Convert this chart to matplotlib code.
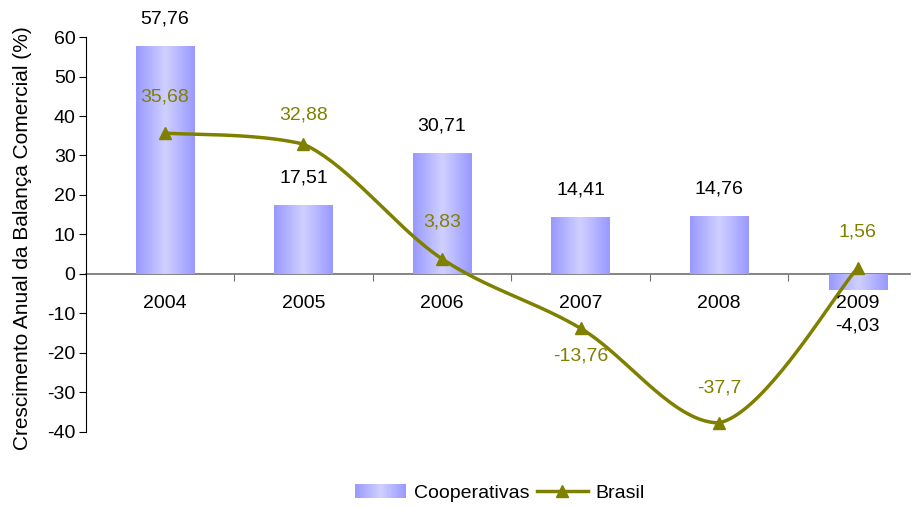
import numpy as np
import matplotlib.pyplot as plt
from matplotlib.colors import LinearSegmentedColormap
from matplotlib.legend_handler import HandlerBase
from matplotlib.patches import Rectangle
from matplotlib.lines import Line2D

plt.rcParams['font.family'] = ['Liberation Sans', 'DejaVu Sans']
plt.rcParams['axes.unicode_minus'] = False

# data
anos = ['2004', '2005', '2006', '2007', '2008', '2009']
cooperativas = [57.76, 17.51, 30.71, 14.41, 14.76, -4.03]
brasil = [35.68, 32.88, 3.83, -13.76, -37.7, 1.56]
coop_labels = ['57,76', '17,51', '30,71', '14,41', '14,76', '-4,03']
brasil_labels = ['35,68', '32,88', '3,83', '-13,76', '-37,7', '1,56']

olive = '#808000'
bar_cmap = LinearSegmentedColormap.from_list('grad', ['#9999ff', '#d0d0ff', '#9999ff'])


def smooth(xs, ys, n=40):
    # bezier smoothing, control points kept inside each segment's y-range
    P = np.column_stack([xs, ys]).astype(float)
    out = []
    for i in range(len(P) - 1):
        p0 = P[max(i - 1, 0)]
        p1 = P[i]
        p2 = P[i + 1]
        p3 = P[min(i + 2, len(P) - 1)]
        c1 = p1 + (p2 - p0) / 6
        c2 = p2 - (p3 - p1) / 6
        lo, hi = min(p1[1], p2[1]), max(p1[1], p2[1])
        c1[1] = np.clip(c1[1], lo, hi)
        c2[1] = np.clip(c2[1], lo, hi)
        t = np.linspace(0, 1, n)[:, None]
        seg = ((1 - t) ** 3) * p1 + 3 * ((1 - t) ** 2) * t * c1 + 3 * (1 - t) * t ** 2 * c2 + t ** 3 * p2
        out.append(seg)
    out = np.vstack(out)
    return out[:, 0], out[:, 1]


class GradientHandler(HandlerBase):
    def create_artists(self, legend, orig_handle, xdescent, ydescent, width, height, fontsize, trans):
        arts = []
        n = 30
        for k in range(n):
            c = bar_cmap((k + 0.5) / n)
            r = Rectangle((-xdescent + width * k / n, -ydescent), width / n + 0.3, height,
                          facecolor=c, edgecolor='none', transform=trans)
            arts.append(r)
        return arts


fig = plt.figure(figsize=(9.14, 5.07), dpi=100)
ax = fig.add_axes([0.094, 0.148, 0.902, 0.779])

x = np.arange(len(anos))
bars = ax.bar(x, cooperativas, width=0.42, color='none', edgecolor='none', zorder=2)
grad = np.linspace(0, 1, 64).reshape(1, -1)
for b in bars:
    x0, y0 = b.get_x(), b.get_y()
    w, h = b.get_width(), b.get_height()
    im = ax.imshow(grad, cmap=bar_cmap, aspect='auto', zorder=2,
                   extent=[x0, x0 + w, min(y0, y0 + h), max(y0, y0 + h)])
    im.set_clip_path(b)

sx, sy = smooth(x, brasil)
ax.plot(sx, sy, color=olive, lw=2.5, zorder=3)
ax.plot(x, brasil, ls='none', marker='^', ms=9, color=olive, zorder=4)

# labels
for i, v in enumerate(cooperativas):
    off = 27 if v >= 0 else -36
    ax.annotate(coop_labels[i], (i, v), xytext=(0, off), textcoords='offset pixels',
                ha='center', va='center', fontsize=14, color='black', zorder=5)

brasil_off = [36, 29, 37, -28, 35, 36]
for i, v in enumerate(brasil):
    ax.annotate(brasil_labels[i], (i, v), xytext=(0, brasil_off[i]), textcoords='offset pixels',
                ha='center', va='center', fontsize=14, color=olive, zorder=5)

for i, a in enumerate(anos):
    ax.annotate(a, (i, 0), xytext=(0, -30), textcoords='offset pixels',
                ha='center', va='center', fontsize=14, color='black', zorder=5)

ax.set_xlim(-0.57, 5.38)
ax.set_ylim(-40, 60)
ax.set_yticks(np.arange(-40, 61, 10))
ax.set_xticks(np.arange(0.5, 5, 1))
ax.set_xticklabels([])
for s in ['top', 'right']:
    ax.spines[s].set_visible(False)
ax.spines['bottom'].set_position(('data', 0))
ax.spines['bottom'].set_color('#707070')
ax.spines['bottom'].set_linewidth(1.2)
ax.spines['bottom'].set_zorder(1)
ax.tick_params(axis='x', length=5, direction='out', color='#707070')
ax.spines['left'].set_color('black')
ax.tick_params(axis='y', labelsize=14, length=5, direction='out', pad=2.5)
ax.set_ylabel('Crescimento Anual da Balança Comercial (%)', fontsize=15)
ax.yaxis.set_label_coords(-0.066, 0.49)

bar_handle = Rectangle((0, 0), 1, 1)
line_handle = Line2D([], [], color=olive, lw=2.5, marker='^', ms=9)
fig.legend([bar_handle, line_handle], ['Cooperativas', 'Brasil'],
           handler_map={Rectangle: GradientHandler()},
           loc='center', bbox_to_anchor=(0.547, 0.028), ncol=2, frameon=False,
           fontsize=14, handlelength=2.6, handletextpad=0.4, columnspacing=0.4)

fig.savefig('out.png', dpi=100)
